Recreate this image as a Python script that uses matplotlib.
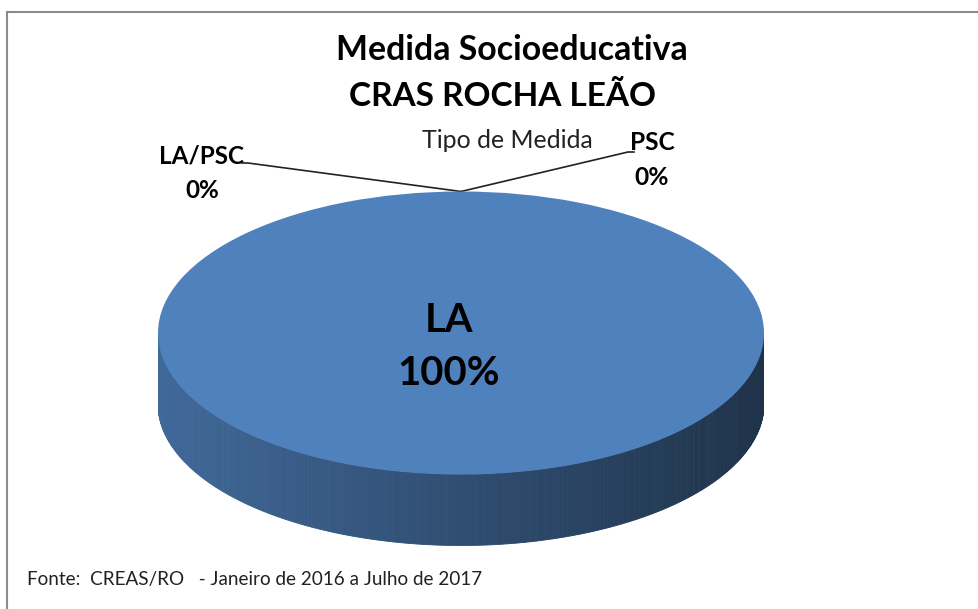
import matplotlib.pyplot as plt
import numpy as np
from matplotlib.colors import to_rgb

categories = ['LA', 'LA/PSC', 'PSC']
values = [100, 0, 0]
colors = ['#4f81bd', '#c0504d', '#9bbb59']
title_lines = ['Medida Socioeducativa', 'CRAS ROCHA LEÃO']
subtitle = 'Tipo de Medida'
source = 'Fonte:  CREAS/RO   - Janeiro de 2016 a Julho de 2017'

plt.rcParams['font.family'] = ['Lato', 'DejaVu Sans']

W, H = 979, 609
fig = plt.figure(figsize=(W / 100, H / 100), dpi=100)

# full-figure axes in pixel coords (y down) for frame and texts
bg = fig.add_axes([0, 0, 1, 1])
bg.set_xlim(0, W)
bg.set_ylim(H, 0)
bg.axis('off')
bg.plot([7, W], [12, 12], color='#8c8c8c', lw=1.5)
bg.plot([7, 7], [12, H], color='#8c8c8c', lw=1.5)

# pie axes: unit circle squashed into an ellipse, with room for the side
cx, cy, rx, ry, depth = 461, 333, 303, 141.5, 71
t = depth / ry
ax = fig.add_axes([(cx - rx) / W, 1 - (cy + ry + depth) / H,
                   2 * rx / W, (2 * ry + depth) / H])
wedges, _ = ax.pie(values, colors=colors, startangle=90, counterclock=False,
                   wedgeprops=dict(linewidth=0, zorder=3))
ax.set_aspect('auto')
ax.set_xlim(-1, 1)
ax.set_ylim(-1 - t, 1)
ax.axis('off')

# side of the 3d pie, shaded from left to right
for w in wedges:
    a1, a2 = sorted([w.theta1, w.theta2])
    if a2 - a1 <= 0:
        continue
    ang = np.radians(np.linspace(a1, a2, 721))
    rgb = np.array(to_rgb(w.get_facecolor()))
    for a, b in zip(ang[:-1], ang[1:]):
        if np.sin(a) > 0 and np.sin(b) > 0:
            continue
        xs = [np.cos(a), np.cos(b), np.cos(b), np.cos(a)]
        ys = [np.sin(a), np.sin(b), np.sin(b) - t, np.sin(a) - t]
        m = (xs[0] + xs[1]) / 2
        c = np.clip(rgb * (0.6 - 0.21 * m), 0, 1)
        ax.fill(xs, ys, facecolor=c, edgecolor=c, lw=0.6, zorder=1)

total = sum(values)
pct = [v / total * 100 for v in values]

texts = []
t1 = bg.text(512, 50, title_lines[0], ha='center', va='center', fontweight='bold')
t2 = bg.text(503, 96, title_lines[1], ha='center', va='center', fontweight='bold')
t3 = bg.text(507, 140, subtitle, ha='center', va='center', color='#222222')
t4 = bg.text(27, 580, source, ha='left', va='center', color='#222222')
texts += [(t1, 351), (t2, 307), (t3, 171), (t4, 455)]

# main label in the centre of the big slice
big = ax.text(-0.04, -0.1, f'{categories[0]}\n{pct[0]:.0f}%', ha='center',
              va='center', fontweight='bold', linespacing=1.55, zorder=5)
texts.append((big, 103))

# zero slices: labels outside with leader lines to the top edge
label_pos = [(202, 173, 85, (248, 163)), (652, 160, 45, (628, 152))]
for w, name, p, (lx, ly, lw_, start) in zip(wedges[1:], categories[1:], pct[1:], label_pos):
    ang = np.radians(w.theta1)
    end = ax.transData.transform((np.cos(ang), np.sin(ang)))
    end = bg.transData.inverted().transform(end)
    tx = bg.text(lx, ly, f'{name}\n{p:.0f}%', ha='center', va='center',
                 fontweight='bold', linespacing=1.6)
    texts.append((tx, lw_))
    side = -1 if start[0] < end[0] else 1
    bg.plot([start[0] + 6 * side, start[0], end[0]], [start[1], start[1], end[1]],
            color='#222222', lw=1.2, zorder=6)

for tx, _ in texts:
    tx.set_fontsize(20)
fig.canvas.draw()
for tx, width in texts:
    bb = tx.get_window_extent()
    tx.set_fontsize(20 * width / bb.width)

fig.savefig('out.png', dpi=100)
